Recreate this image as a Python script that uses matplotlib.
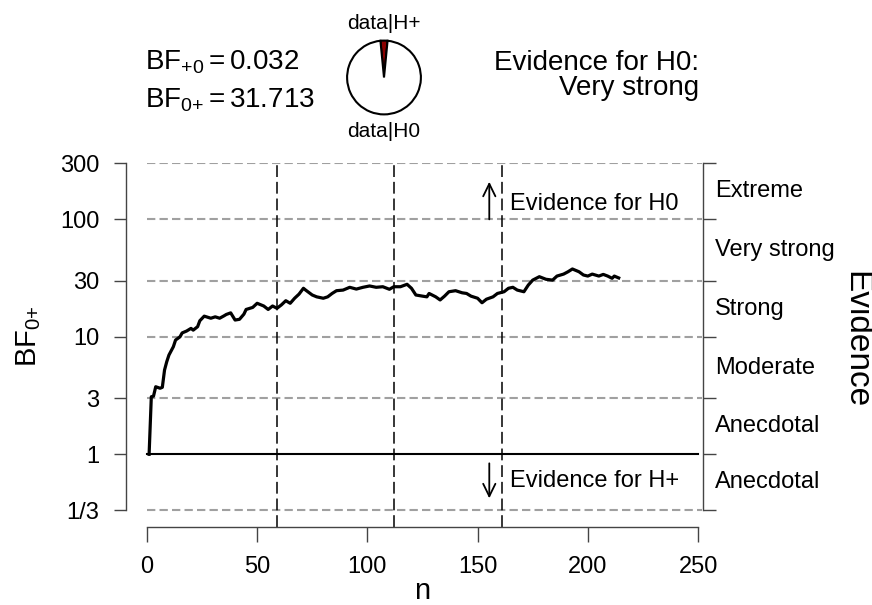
import matplotlib
matplotlib.use('Agg')
import matplotlib.pyplot as plt
from matplotlib.ticker import NullLocator

plt.rcParams['font.family'] = ['Liberation Sans', 'DejaVu Sans']
plt.rcParams['mathtext.fontset'] = 'custom'
plt.rcParams['mathtext.rm'] = 'Liberation Sans'
plt.rcParams['mathtext.it'] = 'Liberation Sans:italic'
plt.rcParams['lines.scale_dashes'] = False

# sequential Bayes factor BF0+ against n
n_vals = [1, 2, 3, 4, 6, 7, 8, 9, 10, 12, 13, 15, 16, 18, 20, 21, 23, 24, 26, 29,
          31, 33, 35, 36, 38, 40, 42, 44, 45, 48, 50, 53, 55, 57, 59, 61, 63, 65, 67, 69,
          71, 72, 75, 77, 80, 82, 84, 86, 89, 92, 95, 98, 101, 104, 107, 110, 112, 115, 118, 120,
          122, 125, 127, 128, 131, 133, 135, 137, 140, 143, 145, 147, 150, 152, 154, 157, 159, 162, 164, 166,
          168, 171, 173, 175, 178, 181, 184, 186, 189, 191, 193, 196, 198, 200, 202, 205, 207, 209, 211, 212,
          214]
bf_vals = [1.0, 3.09, 3.13, 3.76, 3.65, 3.72, 5.22, 6.14, 7.0, 8.24, 9.39, 10.0, 10.8, 11.2, 11.8, 11.4, 12.2, 13.7, 15.0, 14.4,
           14.8, 14.4, 15.1, 15.5, 16.0, 13.9, 14.1, 15.6, 17.1, 17.8, 19.3, 18.3, 17.1, 18.3, 17.5, 18.7, 20.3, 19.3, 21.3, 23.1,
           25.9, 25.0, 22.7, 21.9, 21.3, 21.9, 23.4, 24.7, 25.0, 26.4, 25.5, 26.4, 27.1, 26.4, 26.7, 25.4, 26.7, 26.7, 28.0, 25.9,
           22.7, 22.2, 21.9, 23.4, 21.9, 20.6, 22.2, 24.2, 24.7, 23.7, 23.4, 22.2, 21.3, 19.5, 20.9, 21.9, 23.4, 24.2, 25.9, 26.4,
           25.0, 24.2, 27.6, 30.4, 32.5, 30.9, 30.4, 32.9, 34.2, 35.8, 37.8, 35.8, 33.6, 32.9, 34.2, 32.9, 34.0, 32.9, 31.5, 32.9,
           31.713]

look_n = [59, 112, 161]

bf_plus0 = 0.032
bf_0plus = 31.713
p_h_plus = bf_plus0 / (1 + bf_plus0)

y_ticks = [1 / 3, 1, 3, 10, 30, 100, 300]
y_labels = ['1/3', '1', '3', '10', '30', '100', '300']
x_ticks = [0, 50, 100, 150, 200, 250]
evidence_labels = ['Anecdotal', 'Anecdotal', 'Moderate', 'Strong', 'Very strong', 'Extreme']

W, H = 872, 605
fig = plt.figure(figsize=(W / 100, H / 100), dpi=100)


def fx(px):
    return px / W


def fy(py):
    return 1 - py / H


ax = fig.add_axes([fx(126), fy(527), (702.7 - 126) / W, (527 - 163.3) / H])
ax.set_yscale('log')
ax.set_xlim(-9.48, 252.1)
ax.set_ylim(0.2406, 300)

# grid
for lev in y_ticks:
    if lev == 1:
        continue
    ax.plot([0, 252], [lev, lev], color='#a0a0a0', lw=1.5, dashes=(6, 3), zorder=1)
ax.plot([0, 250], [1, 1], color='black', lw=1.5, zorder=2)
for n0 in look_n:
    ax.axvline(n0, color='black', lw=1.1, dashes=(8.5, 3.5), zorder=2)

ax.plot(n_vals, bf_vals, color='black', lw=2.3, zorder=3,
        solid_joinstyle='round')

# axes
ax.spines['top'].set_visible(False)
ax.spines['left'].set_bounds(1 / 3, 300)
ax.spines['right'].set_bounds(1 / 3, 300)
ax.spines['bottom'].set_bounds(0, 250)
for s in ['left', 'right', 'bottom']:
    ax.spines[s].set_color('#444444')
    ax.spines[s].set_linewidth(1.0)

ax.set_yticks(y_ticks, y_labels)
ax.yaxis.set_minor_locator(NullLocator())
ax.set_xticks(x_ticks, [str(v) for v in x_ticks])
ax.tick_params(axis='y', which='major', left=True, right=True, labelright=False,
               direction='out', length=9, width=1.0, color='#444444',
               labelsize=17, pad=10)
ax.tick_params(axis='x', direction='out', length=11, width=1.0, color='#444444',
               labelsize=17, pad=10)

# evidence categories on the right
for i, lab in enumerate(evidence_labels):
    mid = (y_ticks[i] * y_ticks[i + 1]) ** 0.5
    ax.text(1.022, mid, lab, transform=ax.get_yaxis_transform(), fontsize=17,
            ha='left', va='center', clip_on=False)

fig.text(fx(847), fy(340), 'Evidence', rotation=-90, rotation_mode='anchor',
         ha='center', va='baseline', fontsize=24)

# arrows
arrow_kw = dict(arrowstyle='->,head_length=0.45,head_width=0.22',
                color='black', lw=1.3, mutation_scale=20, shrinkA=0, shrinkB=0)
ax.annotate('', xy=(155.3, 209), xytext=(155.3, 100), arrowprops=arrow_kw)
ax.annotate('', xy=(155.3, 0.422), xytext=(155.3, 0.838), arrowprops=arrow_kw)
ax.text(164.7, 135, 'Evidence for H0', fontsize=17, ha='left', va='center')
ax.text(164.7, 0.587, 'Evidence for H+', fontsize=17, ha='left', va='center')

# axis titles
fig.text(fx(422.5), fy(599), 'n', fontsize=21, ha='center', va='baseline')
fig.text(fx(36.5), fy(336), r'$\mathrm{BF}_{\text{0+}}$', rotation=90,
         rotation_mode='anchor', ha='center', va='baseline', fontsize=21)

# header
fig.text(fx(145), fy(69), r'$\mathrm{BF}_{\text{+0}} = 0.032$', fontsize=20,
         ha='left', va='baseline')
fig.text(fx(145), fy(107), r'$\mathrm{BF}_{\text{0+}} = 31.713$', fontsize=20,
         ha='left', va='baseline')
fig.text(fx(699), fy(70), 'Evidence for H0:', fontsize=20, ha='right', va='baseline')
fig.text(fx(699), fy(95), 'Very strong', fontsize=20, ha='right', va='baseline')

pie_ax = fig.add_axes([fx(384 - 38), fy(77.5 + 38), 76 / W, 76 / H])
pie_ax.pie([p_h_plus, 1 - p_h_plus], colors=['darkred', 'white'],
           startangle=90 - p_h_plus * 180,
           wedgeprops=dict(edgecolor='black', linewidth=1.5))
pie_ax.set_xlim(-1.03, 1.03)
pie_ax.set_ylim(-1.03, 1.03)
fig.text(fx(384), fy(29), 'data|H+', fontsize=15, ha='center', va='baseline')
fig.text(fx(384), fy(137), 'data|H0', fontsize=15, ha='center', va='baseline')

fig.savefig('out.png', dpi=100)
